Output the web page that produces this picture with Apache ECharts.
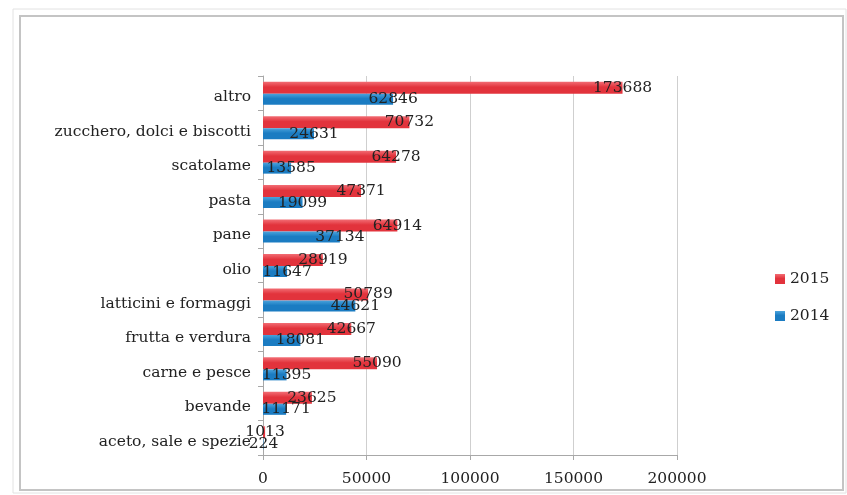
<!DOCTYPE html>
<html>
<head>
<meta charset="utf-8">
<script src="https://cdn.jsdelivr.net/npm/echarts@6/dist/echarts.min.js"></script>
<style>
  html, body { margin: 0; padding: 0; background: #fff; }
  #chart { width: 847px; height: 495px; }
</style>
</head>
<body>
<div id="chart"></div>
<script>
// Categories listed bottom to top (category axis starts at the bottom)
const categories = [
  'aceto, sale e spezie', 'bevande', 'carne e pesce', 'frutta e verdura',
  'latticini e formaggi', 'olio', 'pane', 'pasta', 'scatolame',
  'zucchero, dolci e biscotti', 'altro'
];
const values2015 = [1013, 23625, 55090, 42667, 50789, 28919, 64914, 47371, 64278, 70732, 173688];
const values2014 = [224, 11171, 11395, 18081, 44621, 11647, 37134, 19099, 13585, 24631, 62846];
const xTicks = { min: 0, max: 200000, interval: 50000 };

const FONT = 'DejaVu Serif';
const TEXT = '#222222';

const chart = echarts.init(document.getElementById('chart'));

function grad(top, bottom) {
  return new echarts.graphic.LinearGradient(0, 0, 0, 1, [
    { offset: 0, color: top },
    { offset: 0.45, color: bottom },
    { offset: 1, color: bottom }
  ]);
}

const valueLabel = {
  show: true,
  position: 'right',
  distance: 0,
  align: 'center',
  fontFamily: FONT,
  fontSize: 15.5,
  color: TEXT,
  formatter: p => String(p.value)
};

chart.setOption({
  animation: false,
  backgroundColor: '#ffffff',
  graphic: [
    { type: 'rect', shape: { x: 13, y: 9, width: 833, height: 484 },
      style: { fill: 'none', stroke: '#e2e2e2', lineWidth: 1 } },
    { type: 'rect', shape: { x: 20, y: 16, width: 823, height: 474 },
      style: { fill: 'none', stroke: '#c4c4c4', lineWidth: 2 } }
  ],
  legend: {
    orient: 'vertical',
    left: 770,
    top: 266,
    itemWidth: 10,
    itemHeight: 10,
    itemGap: 21,
    icon: 'rect',
    data: ['2015', '2014'],
    textStyle: { fontFamily: FONT, fontSize: 15.5, color: TEXT }
  },
  grid: { left: 263, right: 170, top: 76, bottom: 40 },
  xAxis: {
    type: 'value',
    min: xTicks.min,
    max: xTicks.max,
    interval: xTicks.interval,
    axisLine: { show: true, lineStyle: { color: '#a8a8a8' } },
    axisTick: { show: true, length: 5, lineStyle: { color: '#a8a8a8' } },
    splitLine: { show: true, lineStyle: { color: '#cfcfcf' } },
    axisLabel: {
      fontFamily: FONT, fontSize: 15.5, color: TEXT, margin: 16,
      formatter: v => String(v)
    }
  },
  yAxis: {
    type: 'category',
    data: categories,
    axisLine: { show: true, lineStyle: { color: '#a8a8a8' } },
    axisTick: { show: true, length: 5, lineStyle: { color: '#a8a8a8' } },
    axisLabel: {
      margin: 12,
      formatter: v => '{c|' + v + '}',
      rich: {
        c: { fontFamily: FONT, fontSize: 15.5, color: TEXT, padding: [8, 0, 0, 0] }
      }
    }
  },
  series: [
    {
      name: '2015',
      type: 'bar',
      data: values2015,
      barWidth: 12,
      barGap: '0%',
      itemStyle: { color: grad('#f26d74', '#e2333c') },
      label: valueLabel
    },
    {
      name: '2014',
      type: 'bar',
      data: values2014,
      barWidth: 11,
      barGap: '0%',
      itemStyle: { color: grad('#4aa3dc', '#1b7cc2') },
      label: valueLabel
    }
  ]
});
</script>
</body>
</html>
